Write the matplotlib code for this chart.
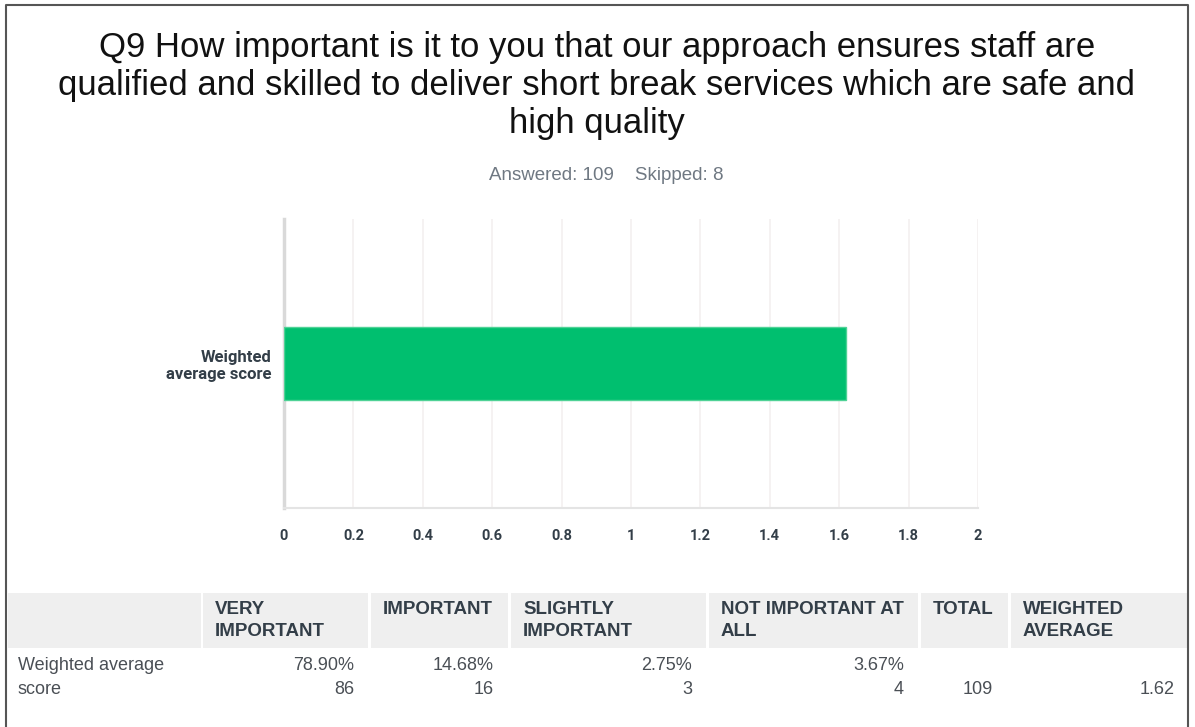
import matplotlib
matplotlib.use("Agg")
import matplotlib.pyplot as plt
from matplotlib.patches import Rectangle

# data
title_lines = ["Q9 How important is it to you that our approach ensures staff are",
               "qualified and skilled to deliver short break services which are safe and",
               "high quality"]
answered = 109
skipped = 8
row_label = ["Weighted average", "score"]
bar_label = "Weighted\naverage score"
headers = [["VERY", "IMPORTANT"], ["IMPORTANT"], ["SLIGHTLY", "IMPORTANT"],
           ["NOT IMPORTANT AT", "ALL"], ["TOTAL"], ["WEIGHTED", "AVERAGE"]]
pcts = [78.90, 14.68, 2.75, 3.67]
counts = [86, 16, 3, 4]
total = 109
weighted_avg = 1.62
xticks = [0, 0.2, 0.4, 0.6, 0.8, 1, 1.2, 1.4, 1.6, 1.8, 2]

W, H = 1195, 727
fig = plt.figure(figsize=(W / 100, H / 100), dpi=100)
fig.patch.set_facecolor("white")

# overlay in pixel coords for border, text and table
bg = fig.add_axes([0, 0, 1, 1])
bg.set_xlim(0, W)
bg.set_ylim(H, 0)
bg.axis("off")
bg.plot([6, 6, 1188, 1188], [H, 5, 5, H], color="#555555", lw=1.5)

tfont = "Liberation Sans"
dark = "#333e48"
txt = "#4a4f55"
for y, line in zip([47, 85, 124], title_lines):
    bg.text(597, y, line, ha="center", va="center", fontsize=25,
            family=tfont, color="#111111")
bg.text(606, 176, f"Answered: {answered}    Skipped: {skipped}", ha="center",
        va="center", fontsize=13.5, family=tfont, color="#6f7882")

# chart
ax = fig.add_axes([284 / W, 1 - 508 / H, (978 - 284) / W, (508 - 219) / H])
ax.barh([0], [weighted_avg], height=1.0, color="#00bf6f",
        edgecolor="#4fd296", lw=1, zorder=3)
ax.set_xlim(0, 2)
ax.set_ylim(-2, 2)
ax.set_xticks(xticks)
ax.set_xticklabels([f"{t:g}" for t in xticks], family="Roboto",
                   fontweight="bold", fontsize=10.5, color=dark)
ax.set_yticks([0])
ax.set_yticklabels([bar_label], family="Roboto", fontweight="bold",
                   fontsize=12, color=dark, ha="right", linespacing=1.15)
ax.tick_params(axis="x", length=0, pad=15)
ax.tick_params(axis="y", length=0, pad=9)
ax.grid(axis="x", color="#f4f1f1", lw=1.3, zorder=0)
for s in ["top", "right"]:
    ax.spines[s].set_visible(False)
ax.spines["left"].set_color("#d9d9d9")
ax.spines["left"].set_linewidth(2.5)
ax.spines["bottom"].set_color("#e4e4e4")
ax.spines["bottom"].set_linewidth(1.5)

# table
cols = [(8, 201), (203, 368), (371, 508), (511, 706), (709, 918),
        (921, 1008), (1011, 1188)]
for x0, x1 in cols:
    bg.add_patch(Rectangle((x0, 593), x1 - x0, 55, color="#efefef", lw=0))
for (x0, x1), h in zip(cols[1:], headers):
    for y, line in zip([610, 632], h):
        bg.text(x0 + 12, y, line, ha="left", va="center", fontsize=13.5,
                family=tfont, fontweight="bold", color=dark)
for y, line in zip([666, 689], row_label):
    bg.text(18, y, line, ha="left", va="center", fontsize=13, family=tfont,
            color=txt)
for (x0, x1), p, c in zip(cols[1:5], pcts, counts):
    bg.text(x1 - 14, 666, f"{p:.2f}%", ha="right", va="center",
            fontsize=13, family=tfont, color=txt)
    bg.text(x1 - 14, 689, f"{c}", ha="right", va="center",
            fontsize=13, family=tfont, color=txt)
bg.text(cols[5][1] - 15, 689, f"{total}", ha="right", va="center",
        fontsize=13, family=tfont, color=txt)
bg.text(cols[6][1] - 13, 689, f"{weighted_avg:.2f}", ha="right", va="center",
        fontsize=13, family=tfont, color=txt)

fig.savefig("out.png", dpi=100)
